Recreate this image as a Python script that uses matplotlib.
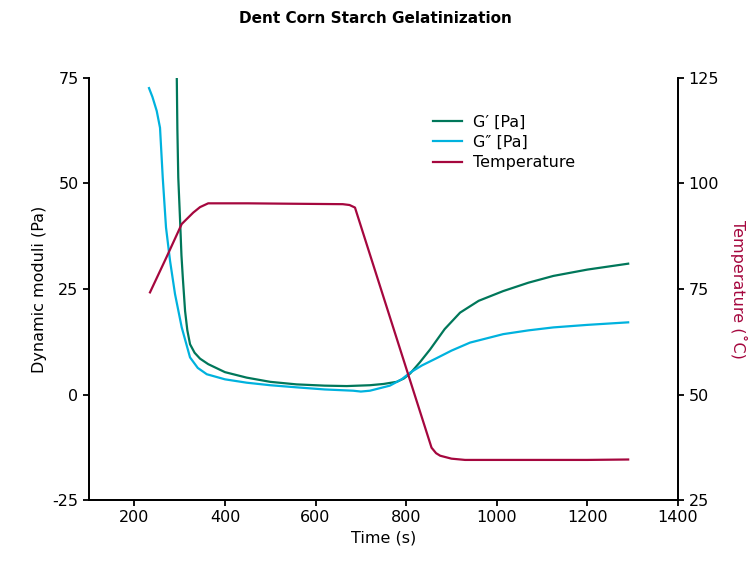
import matplotlib.pyplot as plt

# G' [Pa]
g1_time = [293.6, 295, 297, 301, 304, 307, 312, 317, 323, 333, 345, 363, 400, 448, 500, 558, 620, 669, 720, 750, 779, 795, 809, 830, 853, 885, 919, 960, 1014, 1070, 1125, 1200, 1290]
g1_val = [76, 62.9, 51.4, 41.2, 33, 27.7, 19.8, 15.2, 11.9, 9.9, 8.5, 7.2, 5.3, 4.0, 3.0, 2.4, 2.1, 2.0, 2.2, 2.5, 3.0, 3.8, 5.0, 7.6, 10.7, 15.5, 19.4, 22.2, 24.5, 26.5, 28.1, 29.6, 31.0]

# G'' [Pa]
g2_time = [232.4, 240, 249.4, 256.7, 262.7, 269.9, 278.8, 289.8, 304.6, 322.9, 340, 360, 400, 448, 500, 558, 620, 683, 700, 720, 764, 790, 809, 835, 867, 900, 941, 1014, 1070, 1125, 1200, 1290]
g2_val = [72.6, 70.5, 67.2, 63.2, 51.4, 39.6, 31.7, 23.8, 15.9, 8.8, 6.3, 4.8, 3.6, 2.8, 2.2, 1.7, 1.2, 0.9, 0.7, 0.9, 2.1, 3.6, 5.2, 6.9, 8.6, 10.4, 12.3, 14.3, 15.2, 15.9, 16.5, 17.1]

# Temperature (C)
t_time = [234.6, 270, 304.6, 330, 345, 363, 450, 550, 660, 675, 687, 856, 866, 875, 900, 930, 1000, 1100, 1200, 1290]
t_val = [74.2, 82.3, 90.4, 93.1, 94.4, 95.3, 95.3, 95.2, 95.1, 94.9, 94.3, 37.4, 36.1, 35.5, 34.8, 34.5, 34.5, 34.5, 34.5, 34.6]

green = "#00775A"
cyan = "#00B2DE"
red = "#A5073E"

plt.rcParams["font.family"] = "DejaVu Sans"
plt.rcParams["font.size"] = 11
plt.rcParams["axes.unicode_minus"] = False

fig = plt.figure(figsize=(7.5, 5.61), dpi=100)
ax = fig.add_axes([0.1187, 0.1087, 0.7853, 0.7523])
ax2 = ax.twinx()

l1, = ax.plot(g1_time, g1_val, color=green, lw=1.6, label="G\u2032 [Pa]")
l2, = ax.plot(g2_time, g2_val, color=cyan, lw=1.6, label="G\u2033 [Pa]")
l3, = ax2.plot(t_time, t_val, color=red, lw=1.6, label="Temperature")

ax.set_xlim(100, 1400)
ax.set_ylim(-25, 75)
ax2.set_ylim(25, 125)
ax.set_xticks([200, 400, 600, 800, 1000, 1200, 1400])
ax.set_yticks([-25, 0, 25, 50, 75])
ax2.set_yticks([25, 50, 75, 100, 125])

for a in (ax, ax2):
    a.spines["top"].set_visible(False)
    for s in a.spines.values():
        s.set_linewidth(1.3)
    a.tick_params(width=1.3, length=4, labelsize=11.5)

ax.set_xlabel("Time (s)", fontsize=11.5)
ax.set_ylabel("Dynamic moduli (Pa)", fontsize=11.5)
ax2.set_ylabel("Temperature (\u02daC)", color=red, fontsize=11.5, rotation=270, labelpad=20)

ax.legend(handles=[l1, l2, l3], frameon=False, loc="upper left",
          bbox_to_anchor=(0.56, 0.948), fontsize=11.5, handlelength=1.8,
          handletextpad=0.7, labelspacing=0.35)

fig.suptitle("Dent Corn Starch Gelatinization", fontweight="bold", fontsize=11, y=0.98)

fig.savefig("out.png", dpi=100)
